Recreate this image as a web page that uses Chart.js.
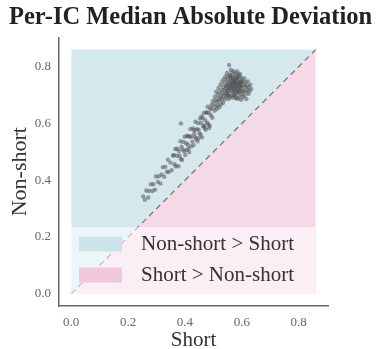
<!DOCTYPE html>
<html>
<head>
<meta charset="utf-8">
<script src="https://cdn.jsdelivr.net/npm/chart.js@4/dist/chart.umd.min.js"></script>
<style>
  html, body { margin: 0; padding: 0; background: #fff; }
  #wrap { width: 381px; height: 349px; position: relative; }
</style>
</head>
<body>
<div id="wrap"><canvas id="mad"></canvas></div>
<script>
// per-IC median absolute deviation, short vs non-short
const shortVals = [
  // lower tail
  0.253, 0.259, 0.264, 0.271, 0.274, 0.280, 0.286, 0.289, 0.295, 0.298,
  0.305, 0.308, 0.314, 0.318, 0.322, 0.327, 0.331, 0.336, 0.340, 0.343,
  0.349, 0.353, 0.358,
  // middle band
  0.361, 0.363, 0.366, 0.368, 0.372, 0.373, 0.377, 0.379, 0.381, 0.384,
  0.385, 0.388, 0.390, 0.392, 0.394, 0.397, 0.399, 0.401, 0.404, 0.406,
  0.407, 0.410, 0.412, 0.415, 0.417, 0.419, 0.421, 0.424, 0.426, 0.428,
  0.430, 0.433, 0.435, 0.437, 0.439, 0.442, 0.444, 0.446, 0.448, 0.451,
  0.453, 0.455, 0.457, 0.460, 0.462, 0.464, 0.466, 0.469, 0.471, 0.473,
  0.475, 0.478, 0.480, 0.482, 0.484, 0.487, 0.489, 0.491, 0.493, 0.496,
  0.498, 0.386, 0.412, 0.433, 0.447, 0.458, 0.468, 0.476, 0.485, 0.494,
  // upper cluster
  0.502, 0.504, 0.505, 0.507, 0.509, 0.510, 0.512, 0.513, 0.515, 0.516,
  0.518, 0.519, 0.521, 0.522, 0.523, 0.525, 0.526, 0.527, 0.529, 0.530,
  0.531, 0.532, 0.534, 0.535, 0.536, 0.537, 0.538, 0.540, 0.541, 0.542,
  0.543, 0.544, 0.545, 0.546, 0.547, 0.548, 0.549, 0.550, 0.551, 0.552,
  0.553, 0.554, 0.555, 0.556, 0.557, 0.558, 0.559, 0.560, 0.561, 0.562,
  0.563, 0.564, 0.565, 0.566, 0.567, 0.568, 0.569, 0.570, 0.571, 0.572,
  0.573, 0.574, 0.575, 0.576, 0.577, 0.578, 0.579, 0.580, 0.581, 0.582,
  0.583, 0.584, 0.585, 0.586, 0.587, 0.588, 0.589, 0.590, 0.591, 0.592,
  0.593, 0.594, 0.595, 0.596, 0.597, 0.598, 0.599, 0.600, 0.602, 0.603,
  0.604, 0.606, 0.607, 0.609, 0.610, 0.612, 0.613, 0.615, 0.616, 0.618,
  0.619, 0.621, 0.623, 0.625, 0.627, 0.630, 0.633,
  // dense core
  0.558, 0.571, 0.583, 0.566, 0.576, 0.588, 0.553, 0.562, 0.579, 0.592,
  0.548, 0.569, 0.585, 0.598, 0.557, 0.574, 0.581, 0.595, 0.564, 0.577,
  0.589, 0.546, 0.603, 0.559, 0.572
];
const nonShortVals = [
  0.343, 0.331, 0.364, 0.339, 0.362, 0.386, 0.362, 0.386, 0.367, 0.413,
  0.394, 0.414, 0.388, 0.420, 0.446, 0.412, 0.447, 0.430, 0.472, 0.429,
  0.462, 0.435, 0.487,
  0.488, 0.456, 0.510, 0.449, 0.486, 0.511, 0.449, 0.503, 0.486, 0.537,
  0.475, 0.518, 0.471, 0.508, 0.535, 0.502, 0.553, 0.489, 0.530, 0.506,
  0.557, 0.525, 0.555, 0.499, 0.553, 0.580, 0.519, 0.554, 0.536, 0.582,
  0.523, 0.577, 0.553, 0.606, 0.546, 0.580, 0.537, 0.601, 0.578, 0.565,
  0.617, 0.560, 0.602, 0.551, 0.619, 0.590, 0.637, 0.584, 0.612, 0.578,
  0.639, 0.603, 0.659, 0.597, 0.638, 0.592, 0.651, 0.629, 0.665, 0.620,
  0.679, 0.600, 0.511, 0.566, 0.548, 0.625, 0.592, 0.638, 0.584, 0.653,
  0.668, 0.645, 0.694, 0.659, 0.682, 0.712, 0.651, 0.676, 0.701, 0.664,
  0.725, 0.688, 0.657, 0.709, 0.680, 0.736, 0.695, 0.667, 0.718, 0.687,
  0.748, 0.705, 0.673, 0.729, 0.697, 0.757, 0.716, 0.684, 0.741, 0.706,
  0.766, 0.724, 0.692, 0.752, 0.713, 0.778, 0.735, 0.699, 0.762, 0.721,
  0.745, 0.686, 0.806, 0.731, 0.771, 0.708, 0.752, 0.724, 0.789, 0.697,
  0.741, 0.765, 0.715, 0.779, 0.733, 0.690, 0.757, 0.722, 0.784, 0.745,
  0.703, 0.768, 0.729, 0.751, 0.694, 0.776, 0.716, 0.740, 0.762, 0.705,
  0.731, 0.783, 0.749, 0.688, 0.723, 0.767, 0.710, 0.742, 0.757, 0.696,
  0.728, 0.774, 0.714, 0.746, 0.683, 0.735, 0.761, 0.703, 0.726, 0.749,
  0.692, 0.737, 0.715, 0.758, 0.698, 0.729, 0.744, 0.711, 0.686, 0.733,
  0.719, 0.748, 0.704, 0.727, 0.713, 0.736, 0.721,
  0.737, 0.711, 0.758, 0.748, 0.717, 0.739, 0.716, 0.759, 0.729, 0.719,
  0.703, 0.738, 0.712, 0.747, 0.694, 0.754, 0.688, 0.731, 0.726, 0.743,
  0.772, 0.731, 0.712, 0.768, 0.699
];
const regionLimit = [0, 0.86];          // extent of the shaded halves
const axisRange = [-0.043, 0.903];
const tickVals = [0.0, 0.2, 0.4, 0.6, 0.8];
const legendLabels = ['Non-short > Short', 'Short > Non-short'];

const blue = 'rgb(213, 232, 238)';
const pink = 'rgb(245, 217, 231)';
const serif = "'Liberation Serif', 'DejaVu Serif', serif";

const points = shortVals.map((x, i) => ({ x: x, y: nonShortVals[i] }));
const lo = regionLimit[0], hi = regionLimit[1];

const legendBox = {
  id: 'legendBox',
  afterDraw(chart) {
    const ctx = chart.ctx;
    const a = chart.chartArea;
    const left = a.left + 10, right = a.left + 256;
    const top = a.bottom - 79, bottom = a.bottom - 11;
    ctx.save();
    ctx.fillStyle = 'rgba(255,255,255,0.55)';
    ctx.fillRect(left, top, right - left, bottom - top);
    const cols = ['rgb(203, 227, 233)', 'rgb(240, 200, 220)'];
    ctx.font = '21px ' + serif;
    ctx.textBaseline = 'middle';
    legendLabels.forEach((lab, i) => {
      const cy = top + 17 + i * 31;
      ctx.fillStyle = cols[i];
      ctx.fillRect(left + 10, cy - 7.5, 43, 15);
      ctx.fillStyle = '#333';
      ctx.fillText(lab, left + 72, cy);
    });
    ctx.restore();
  }
};

new Chart(document.getElementById('mad'), {
  type: 'scatter',
  data: {
    datasets: [
      {
        data: points,
        backgroundColor: 'rgba(75, 75, 75, 0.5)',
        borderWidth: 0,
        pointRadius: 2.2,
        order: 0
      },
      {
        type: 'line',
        data: [{ x: lo, y: lo }, { x: hi, y: hi }],
        borderColor: '#7a7a7a',
        borderWidth: 1.3,
        borderDash: [6, 4],
        pointRadius: 0,
        fill: { value: 0 },
        backgroundColor: pink,
        order: 1
      },
      {
        type: 'line',
        data: [{ x: lo, y: hi }, { x: hi, y: hi }],
        borderWidth: 0,
        pointRadius: 0,
        fill: '-1',
        backgroundColor: blue,
        order: 2
      }
    ]
  },
  options: {
    responsive: true,
    maintainAspectRatio: false,
    animation: false,
    layout: { padding: 0 },
    plugins: {
      legend: { display: false },
      tooltip: { enabled: false },
      title: {
        display: true,
        text: 'Per-IC Median Absolute Deviation',
        color: '#222',
        font: { family: serif, size: 24.5, weight: 'bold' },
        padding: { top: 3, bottom: 5 }
      }
    },
    scales: {
      x: {
        type: 'linear',
        min: axisRange[0],
        max: axisRange[1],
        grid: { display: false, drawTicks: false },
        border: { display: true, color: '#666', width: 1.5 },
        afterBuildTicks: s => { s.ticks = tickVals.map(v => ({ value: v })); },
        afterFit: s => { s.height = 349 - 306; },
        ticks: {
          padding: 9,
          color: '#666',
          font: { family: serif, size: 13 },
          callback: v => v.toFixed(1)
        },
        title: {
          display: true,
          text: 'Short',
          color: '#333',
          font: { family: serif, size: 21, lineHeight: 0.85 },
          padding: { top: 0, bottom: 0 }
        }
      },
      y: {
        type: 'linear',
        min: axisRange[0],
        max: axisRange[1],
        grid: { display: false, drawTicks: false },
        border: { display: true, color: '#666', width: 1.5 },
        afterBuildTicks: s => { s.ticks = tickVals.map(v => ({ value: v })); },
        afterFit: s => { s.width = 59; },
        ticks: {
          padding: 8,
          color: '#666',
          font: { family: serif, size: 13 },
          callback: v => v.toFixed(1)
        },
        title: {
          display: true,
          text: 'Non-short',
          color: '#333',
          font: { family: serif, size: 22, lineHeight: 1 },
          padding: { top: 9, bottom: 0 }
        }
      },
      // empty strip on the right so the title stays centred on the page
      spacer: {
        type: 'linear',
        position: 'right',
        grid: { display: false, drawTicks: false },
        border: { display: false },
        ticks: { display: false },
        afterFit: s => { s.width = 53; }
      }
    }
  },
  plugins: [legendBox]
});
</script>
</body>
</html>
